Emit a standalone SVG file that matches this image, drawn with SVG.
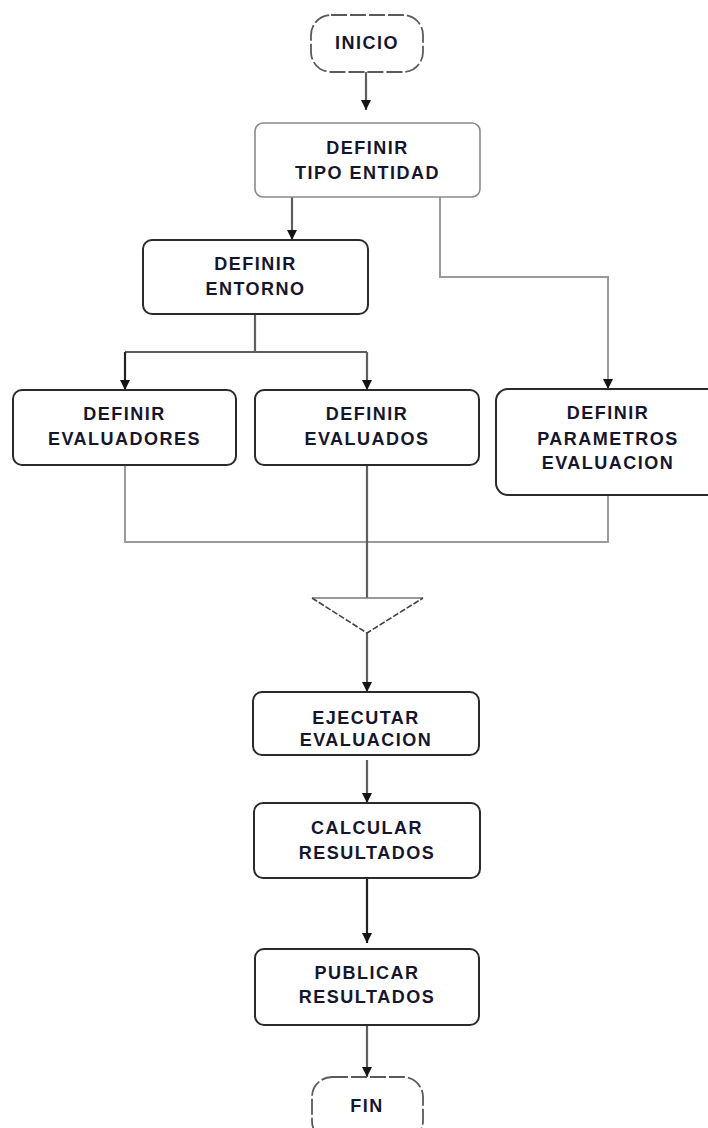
<svg xmlns="http://www.w3.org/2000/svg" width="708" height="1128" viewBox="0 0 708 1128">
  <style>
    .box { fill: #ffffff; stroke: #2a2a2a; stroke-width: 2; }
    .box-light { fill: #ffffff; stroke: #8a8a8a; stroke-width: 1.6; }
    .term { fill: #ffffff; stroke: #5a5a5a; stroke-width: 1.8; stroke-dasharray: 16 3; }
    .label { font-family: "Liberation Sans", Arial, sans-serif; font-size: 18px; font-weight: bold; fill: #15152e; text-anchor: middle; letter-spacing: 1.5px; }
    .wire { fill: none; stroke: #5e5e5e; stroke-width: 2.2; }
    .wire-dark { fill: none; stroke: #222222; stroke-width: 2.2; }
    .wire-soft { fill: none; stroke: #9a9a9a; stroke-width: 2; }
  </style>
  <defs>
    <marker id="arrow" viewBox="0 0 10 10" refX="10" refY="5" markerWidth="10" markerHeight="11" markerUnits="userSpaceOnUse" orient="auto">
      <path d="M0,0 L10,5 L0,10 z" fill="#141414"/>
    </marker>
  </defs>

  <rect width="708" height="1128" fill="#ffffff"/>

  <!-- connectors -->
  <g id="connectors">
    <path class="wire" d="M366,72 V110" marker-end="url(#arrow)"/>
    <path class="wire" d="M292,197 V240" marker-end="url(#arrow)"/>
    <path class="wire-soft" d="M440,197 V277 H608 V389" marker-end="url(#arrow)"/>
    <path class="wire" d="M255,314 V352"/>
    <path class="wire" d="M125,352 H367"/>
    <path class="wire-dark" d="M125,352 V390" marker-end="url(#arrow)"/>
    <path class="wire" d="M367,352 V390" marker-end="url(#arrow)"/>
    <path class="wire-soft" d="M125,465 V542 H608 V495"/>
    <path class="wire" d="M367,465 V598"/>
    <path class="wire" d="M367,633 V692" marker-end="url(#arrow)"/>
    <path class="wire" d="M367,760 V803" marker-end="url(#arrow)"/>
    <path class="wire-dark" d="M367,878 V943" marker-end="url(#arrow)"/>
    <path class="wire" d="M367,1025 V1077" marker-end="url(#arrow)"/>
  </g>

  <g id="inicio">
    <rect class="term" x="311" y="15" width="112" height="57" rx="20"/>
    <text class="label" x="367" y="49">INICIO</text>
  </g>

  <g id="tipo-entidad">
    <rect class="box-light" x="255" y="123" width="225" height="74" rx="8"/>
    <text class="label" x="367.5" y="153.5">DEFINIR</text>
    <text class="label" x="367.5" y="178.5">TIPO ENTIDAD</text>
  </g>

  <g id="entorno">
    <rect class="box" x="143" y="240" width="225" height="74" rx="9"/>
    <text class="label" x="255.5" y="269.5">DEFINIR</text>
    <text class="label" x="255.5" y="294.5">ENTORNO</text>
  </g>

  <g id="evaluadores">
    <rect class="box" x="13" y="390" width="223" height="75" rx="9"/>
    <text class="label" x="124.5" y="419.5">DEFINIR</text>
    <text class="label" x="124.5" y="444.5">EVALUADORES</text>
  </g>

  <g id="evaluados">
    <rect class="box" x="255" y="390" width="224" height="75" rx="9"/>
    <text class="label" x="367" y="419.5">DEFINIR</text>
    <text class="label" x="367" y="444.5">EVALUADOS</text>
  </g>

  <g id="parametros">
    <rect class="box" x="496" y="389" width="225" height="106" rx="12"/>
    <text class="label" x="608" y="418.5">DEFINIR</text>
    <text class="label" x="608" y="444.5">PARAMETROS</text>
    <text class="label" x="608" y="468.5">EVALUACION</text>
  </g>

  <g id="union">
    <path d="M312,598 H423" fill="none" stroke="#777777" stroke-width="1.6"/>
    <path d="M312,598 L367,633 L423,598" fill="none" stroke="#444444" stroke-width="1.6" stroke-dasharray="6 2"/>
  </g>

  <g id="ejecutar">
    <rect class="box" x="253" y="692" width="226" height="63" rx="9"/>
    <text class="label" x="366" y="723.5">EJECUTAR</text>
    <text class="label" x="366" y="746">EVALUACION</text>
  </g>

  <g id="calcular">
    <rect class="box" x="254" y="803" width="226" height="75" rx="9"/>
    <text class="label" x="367" y="833.5">CALCULAR</text>
    <text class="label" x="367" y="858.5">RESULTADOS</text>
  </g>

  <g id="publicar">
    <rect class="box" x="255" y="949" width="224" height="76" rx="9"/>
    <text class="label" x="367" y="978.5">PUBLICAR</text>
    <text class="label" x="367" y="1002.5">RESULTADOS</text>
  </g>

  <g id="fin">
    <rect class="term" x="312" y="1077" width="111" height="64" rx="20"/>
    <text class="label" x="367" y="1111.5">FIN</text>
  </g>
</svg>
